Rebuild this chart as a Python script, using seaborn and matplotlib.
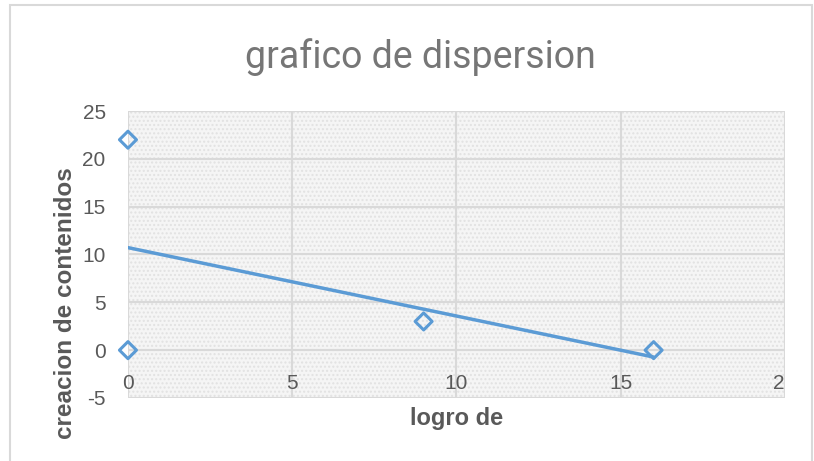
import numpy as np
import pandas as pd
import seaborn as sns
import matplotlib.pyplot as plt
from matplotlib.patches import Rectangle
from matplotlib.transforms import Bbox, TransformedBbox

# datos
logro = [0, 0, 9, 16]
creacion = [22, 0, 3, 0]
xticks = [0, 5, 10, 15, 20]
yticks = [-5, 0, 5, 10, 15, 20, 25]

df = pd.DataFrame({'logro de': logro, 'creacion de contenidos': creacion})

sns.set_style('white')
plt.rcParams['font.family'] = ['Liberation Sans', 'DejaVu Sans']
plt.rcParams['axes.unicode_minus'] = False

azul = '#5b9bd5'
gris = '#595959'

fig = plt.figure(figsize=(8.14, 4.61), dpi=100)
ax = fig.add_axes([0.1572, 0.1367, 0.8072, 0.6225])
ax.set_facecolor('#f5f5f5')

# textura del fondo
ax.add_patch(Rectangle((0, 0), 1, 1, transform=ax.transAxes, facecolor='none',
                       edgecolor='#e2e2e2', hatch='....', lw=0, zorder=0))

# linea de tendencia
sns.regplot(data=df, x='logro de', y='creacion de contenidos', ax=ax, scatter=False,
            ci=None, truncate=True, color=azul, line_kws={'lw': 2.5, 'zorder': 3})
# puntos
sns.scatterplot(data=df, x='logro de', y='creacion de contenidos', ax=ax, marker='D',
                s=75, facecolor='none', edgecolor=azul, linewidth=2.2, zorder=4, clip_on=False)

ax.set_xlim(0, 20)
ax.set_ylim(-5, 25)
ax.set_xticks(xticks)
ax.set_yticks(yticks)
ax.grid(True, color='#d9d9d9', lw=1.5, zorder=1)
ax.set_axisbelow(True)
for s in ax.spines.values():
    s.set_color('none')
ax.spines['bottom'].set_position(('data', 0))
ax.tick_params(axis='both', length=0, labelsize=15, labelcolor=gris)
ax.tick_params(axis='x', pad=17)
ax.tick_params(axis='y', pad=16)

# el "20" queda cortado en el borde derecho
fig.canvas.draw()
lab = ax.get_xticklabels()[-1]
lab.set_clip_on(True)
lab.set_clip_box(TransformedBbox(Bbox([[0, 0], [0.9645, 1]]), fig.transFigure))

ax.set_xlabel('logro de', fontsize=17, fontweight='bold', color=gris)
ax.set_ylabel('creacion de contenidos', fontsize=17.5, fontweight='bold', color=gris)
ax.xaxis.set_label_coords(0.5, -0.03)
ax.yaxis.set_label_coords(-0.078, 0.33)

fig.suptitle('grafico de dispersion', x=0.516, y=0.918, fontsize=27, color='#767676',
             family=['Roboto', 'DejaVu Sans'])

# marco del grafico
fig.add_artist(Rectangle((0.012, -0.05), 0.985, 1.04, transform=fig.transFigure,
                         facecolor='none', edgecolor='#d9d9d9', lw=1.5))

fig.savefig('out.png', dpi=100)
